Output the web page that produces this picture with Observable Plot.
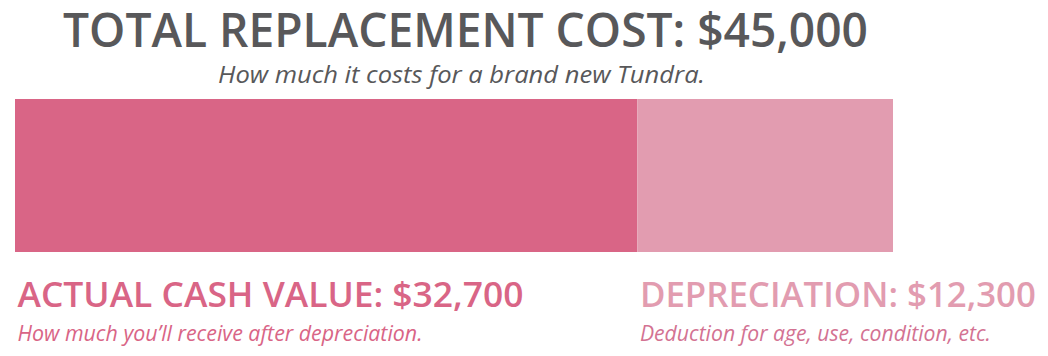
<!DOCTYPE html>
<html>
<head>
<meta charset="utf-8">
<script src="https://cdn.jsdelivr.net/npm/d3@7"></script>
<script src="https://cdn.jsdelivr.net/npm/@observablehq/plot@0.6"></script>
<style>
  html, body { margin: 0; padding: 0; background: #fff; }
</style>
</head>
<body>
<div id="chart"></div>
<script>
// Text of the graphic
const titleText = "TOTAL REPLACEMENT COST: $45,000";
const subtitleText = "How much it costs for a brand new Tundra.";
const segments = ["Actual cash value", "Depreciation"];
const labels = ["ACTUAL CASH VALUE: $32,700", "DEPRECIATION: $12,300"];
const notes = ["How much you\u2019ll receive after depreciation.", "Deduction for age, use, condition, etc."];
// Bar lengths as drawn in the picture (total = 45,000)
const barValues = [31900, 13100];
const total = 45000;
const barColors = ["#d96586", "#e29cb0"];
const labelColors = ["#d96586", "#e29cb0"];
const noteColors = ["#d96586", "#d37292"];

let start = 0;
const rows = segments.map((s, i) => {
  const r = {segment: s, x1: start, x2: start + barValues[i], label: labels[i], note: notes[i],
             labelColor: labelColors[i], noteColor: noteColors[i]};
  start += barValues[i];
  return r;
});

const font = "'Open Sans', sans-serif";
const chart = Plot.plot({
  width: 1048,
  height: 356,
  marginTop: 99,
  marginBottom: 104,
  marginLeft: 15,
  marginRight: 155,
  x: {domain: [0, total], axis: null},
  y: {axis: null},
  color: {domain: segments, range: barColors},
  style: {background: "#fff", overflow: "visible"},
  marks: [
    Plot.rectX(rows, {x1: "x1", x2: "x2", fill: "segment"}),
    Plot.text([titleText], {text: d => d, frameAnchor: "top", lineAnchor: "bottom", dy: -53, dx: 11,
      fill: "#58585a", fontSize: 47, fontWeight: 600, fontFamily: font}),
    Plot.text([subtitleText], {text: d => d, frameAnchor: "top", lineAnchor: "bottom", dy: -17, dx: 7,
      fill: "#58585a", fontSize: 24, fontStyle: "italic", fontFamily: font}),
    Plot.text(rows, {x: "x1", text: "label", frameAnchor: "bottom", textAnchor: "start", lineAnchor: "bottom", dy: 54, dx: 2,
      fill: "labelColor", fontSize: 35, fontWeight: 600, fontFamily: font}),
    Plot.text(rows, {x: "x1", text: "note", frameAnchor: "bottom", textAnchor: "start", lineAnchor: "bottom", dy: 88, dx: 2,
      fill: "noteColor", fontSize: 22, fontStyle: "italic", fontFamily: font})
  ]
});
document.getElementById("chart").appendChild(chart);

// fit each text to the width it has in the reference (condensed typeface)
const fitWidths = [[805], [487], [506, 396], [405, 351]];
const groups = chart.querySelectorAll("g[aria-label='text']");
groups.forEach((g, gi) => {
  g.querySelectorAll("text").forEach((t, ti) => {
    const w = fitWidths[gi] && fitWidths[gi][ti];
    if (w) {
      t.setAttribute("textLength", w);
      t.setAttribute("lengthAdjust", "spacingAndGlyphs");
    }
  });
});
</script>
</body>
</html>
